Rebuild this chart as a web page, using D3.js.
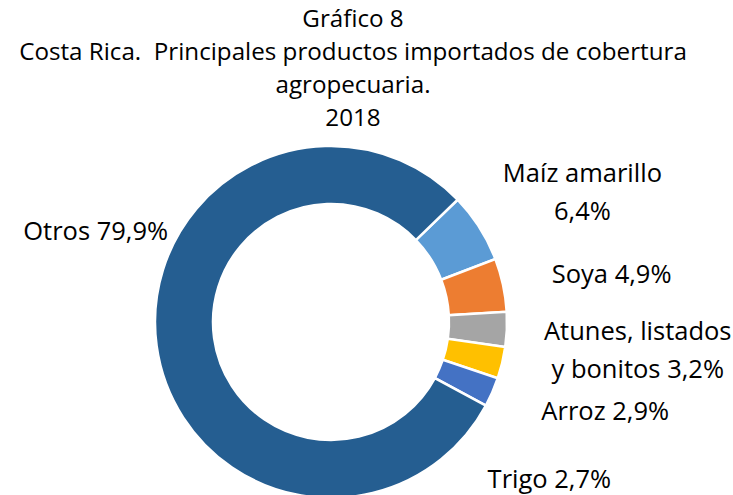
<!DOCTYPE html>
<html>
<head>
<meta charset="utf-8">
<script src="https://cdn.jsdelivr.net/npm/d3@7"></script>
<style>
  body { margin: 0; background: #fff; }
  text { font-family: "Open Sans", "Noto Sans", sans-serif; fill: #000; white-space: pre; }
</style>
</head>
<body>
<div id="chart"></div>
<script>
// chart data
var categories = ["Maíz amarillo", "Soya", "Atunes, listados y bonitos", "Arroz", "Trigo", "Otros"]
var shares = [6.4, 4.9, 3.2, 2.9, 2.7, 79.9]
var labelLines = [["Maíz amarillo", "6,4%"], ["Soya 4,9%"], ["Atunes, listados", "y bonitos 3,2%"],
                  ["Arroz 2,9%"], ["Trigo 2,7%"], ["Otros 79,9%"]]
var titleLines = ["Gráfico 8", "Costa Rica.  Principales productos importados de cobertura",
                  "agropecuaria.", "2018"]

var colors = ["#5B9BD5", "#ED7D31", "#A5A5A5", "#FFC000", "#4472C4", "#255E91"]
// nudges of the data labels from the label arc (Excel labels were dragged)
var labelNudge = [[11, 13], [2, 21], [22, 6], [-3, 32], [-43, 52], [47, -121]]

var width = 733, height = 495
var cx = 331, cy = 322
var outerR = 176, innerR = 118
var fontSize = 25.5
var titleSize = 24.2

var svg = d3.select("#chart")
    .append("svg")
    .attr("width", width)
    .attr("height", height)

// title
svg.append("g")
    .selectAll("text")
    .data(titleLines)
    .enter().append("text")
        .attr("x", 353)
        .attr("y", function(d, i) { return 27 + i * 33 })
        .attr("text-anchor", "middle")
        .style("font-size", titleSize + "px")
        .text(function(d) { return d })

var start = 46 * Math.PI / 180
var pie = d3.pie()
    .sort(null)
    .startAngle(start)
    .endAngle(start + 2 * Math.PI)

var arcs = pie(shares)

var arc = d3.arc()
    .innerRadius(innerR)
    .outerRadius(outerR)

var labelArc = d3.arc()
    .innerRadius(285)
    .outerRadius(285)

var donut = svg.append("g")
    .attr("transform", `translate(${cx},${cy})`)

// slices
donut.selectAll("path")
    .data(arcs)
    .enter().append("path")
        .attr("d", arc)
        .style("fill", function(d, i) { return colors[i] })
        .style("stroke", "#fff")
        .style("stroke-width", "2.5px")

// data labels
var labels = donut.selectAll("text.lbl")
    .data(arcs)
    .enter().append("text")
        .attr("class", "lbl")
        .attr("text-anchor", "middle")
        .style("font-size", fontSize + "px")
        .attr("transform", function(d, i) {
            var c = labelArc.centroid(d)
            return `translate(${c[0] + labelNudge[i][0]},${c[1] + labelNudge[i][1]})`
        })

labels.selectAll("tspan")
    .data(function(d, i) { return labelLines[i] })
    .enter().append("tspan")
        .attr("x", 0)
        .attr("dy", function(d, j) { return j == 0 ? 0 : "1.5em" })
        .text(function(d) { return d })
</script>
</body>
</html>
